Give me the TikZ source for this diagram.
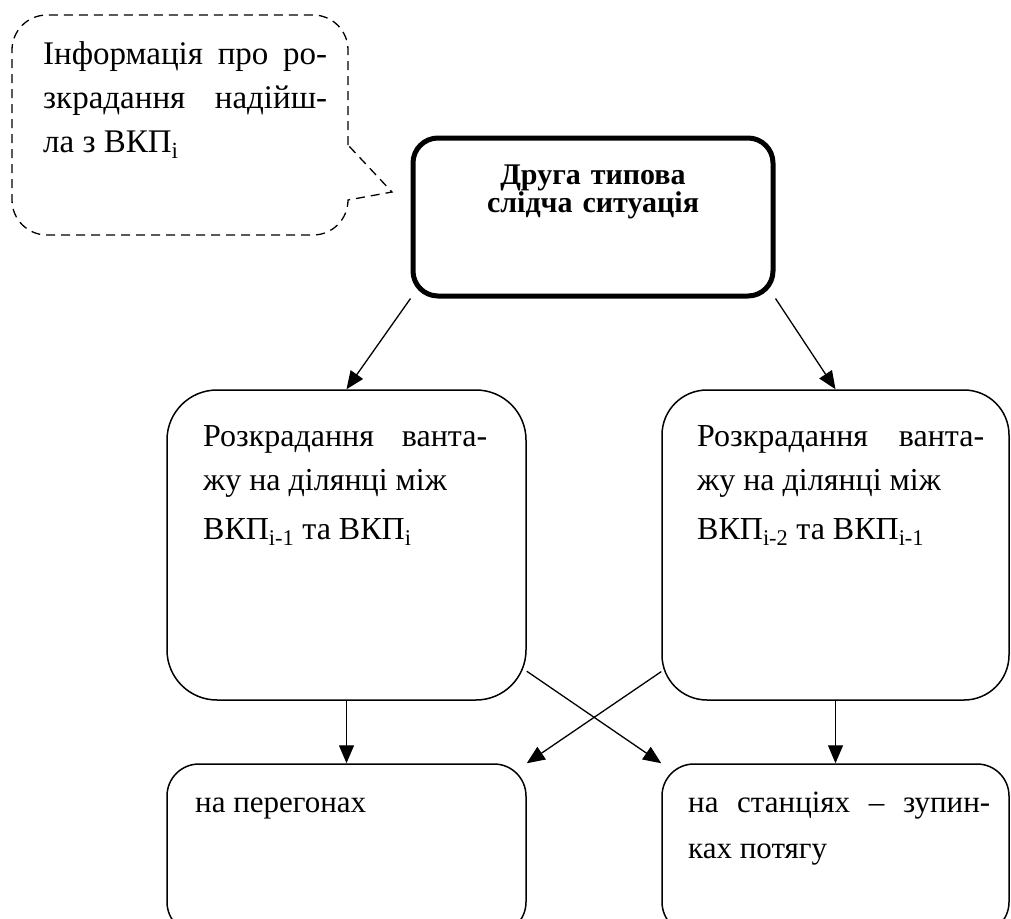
\documentclass[tikz,border=0pt]{standalone}
\usepackage{fontspec}
\setmainfont{Liberation Serif}
\usetikzlibrary{arrows.meta}

\begin{document}
\begin{tikzpicture}[x=1pt, y=1pt,
        box/.style={draw, line width=1.5pt, inner sep=0pt},
        txt/.style={anchor=base west, inner sep=0pt, font=\fontsize{32}{44}\selectfont},
        arr/.style={-{Triangle[length=18pt, width=15pt]}, line width=1.3pt},
        callout/.style={line width=1.3pt, dash pattern=on 9pt off 6pt}]
        \useasboundingbox (0,0) rectangle (1011,-918);

        % Draw the callout
        \draw[callout] (348,-145) -- (348,-50) arc (0:90:35pt) -- (47,-15)
            arc (90:180:35pt) -- (12,-200) arc (180:270:35pt) -- (313,-235)
            arc (270:360:35pt) -- (392,-192) -- cycle;
        \node[txt, text width=284pt, align=justify, font=\fontsize{33}{44}\selectfont] (info) at (43,-64)
            {Інформація про ро-\linebreak зкрадання надійш-\linebreak ла з ВКП\textsubscript{i}};

        % Draw the boxes
        \node[box, line width=5pt, rounded corners=25pt, minimum width=360pt, minimum height=158pt] (typical) at (593,-217) {};
        \node[box, rounded corners=50pt, minimum width=359pt, minimum height=310pt] (theftA) at (346.5,-545) {};
        \node[box, rounded corners=45pt, minimum width=347pt, minimum height=310pt] (theftB) at (835.5,-545) {};
        \node[box, rounded corners=32pt, minimum width=359pt, minimum height=170pt] (haul) at (346.5,-849) {};
        \node[box, rounded corners=32pt, minimum width=347pt, minimum height=170pt] (stops) at (835.5,-849) {};

        % Labels
        \node[anchor=base, inner sep=0pt, text width=320pt, align=center,
            font=\bfseries\fontsize{30}{28}\selectfont] (typicalText) at (593,-184)
            {Друга типова\\слідча ситуація};
        \node[txt, text width=284pt, align=justify] (theftAText) at (203,-446)
            {Розкрадання ванта-\linebreak жу на ділянці між\\[5pt] ВКП\textsubscript{i-1} та ВКП\textsubscript{i}};
        \node[txt, text width=287pt, align=justify] (theftBText) at (697,-446)
            {Розкрадання ванта-\linebreak жу на ділянці між\\[5pt] ВКП\textsubscript{i-2} та ВКП\textsubscript{i-1}};
        \node[txt, font=\fontsize{31}{46}\selectfont] (haulText) at (195,-812) {на перегонах};
        \node[txt, text width=302pt, align=justify, font=\fontsize{31}{46}\selectfont] (stopsText) at (688,-812)
            {на станціях – зупин-\linebreak ках потягу};

        % Arrows
        \draw[arr] (typical.south west) -- (theftA.north);
        \draw[arr] (typical.south east) -- (theftB.north);
        \draw[arr] (theftA.south) -- (haul.north);
        \draw[arr] (theftB.south) -- (stops.north);
        \draw[arr] (theftA.-35) -- (stops.north west);
        \draw[arr] (theftB.216) -- (haul.north east);

    \end{tikzpicture}
\end{document}
